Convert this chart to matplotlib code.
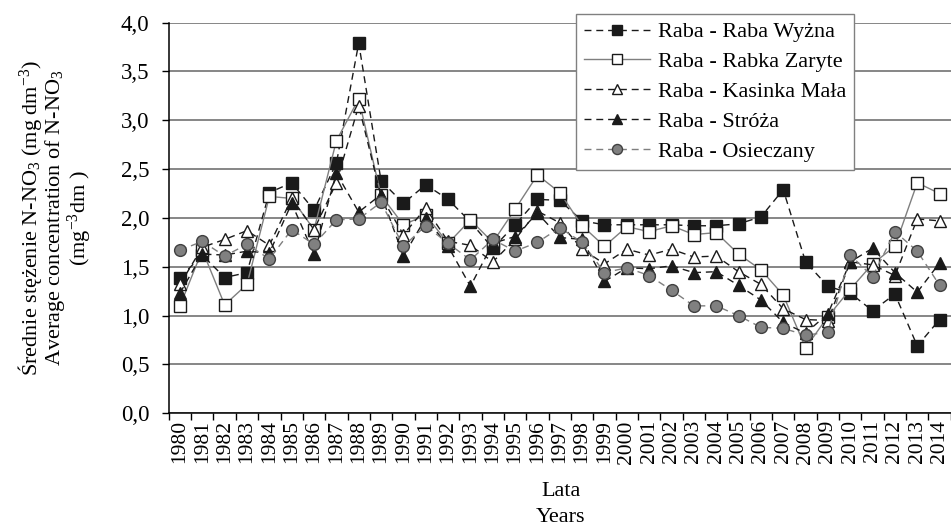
import matplotlib
matplotlib.use("Agg")
import matplotlib.pyplot as plt
from matplotlib.ticker import MultipleLocator, FuncFormatter

plt.rcParams["font.family"] = ["Liberation Serif", "DejaVu Serif"]
plt.rcParams["mathtext.fontset"] = "custom"
plt.rcParams["mathtext.rm"] = "Liberation Serif"
plt.rcParams["mathtext.default"] = "regular"

years = list(range(1980, 2015))

# average N-NO3 concentration per station (mg dm-3)
raba_wyzna = [1.39, 1.62, 1.39, 1.44, 2.26, 2.36, 2.08, 2.56, 3.79, 2.38,
              2.15, 2.34, 2.19, 1.96, 1.69, 1.93, 2.19, 2.18, 1.97, 1.93,
              1.93, 1.93, 1.93, 1.92, 1.92, 1.94, 2.01, 2.29, 1.55, 1.30,
              1.23, 1.05, 1.22, 0.69, 0.96]
rabka_zaryte = [1.10, 1.67, 1.11, 1.32, 2.22, 2.20, 1.88, 2.79, 3.22, 2.23,
                1.93, 2.03, 1.74, 1.98, 1.75, 2.09, 2.44, 2.26, 1.92, 1.71,
                1.91, 1.86, 1.92, 1.83, 1.85, 1.63, 1.47, 1.21, 0.67, 0.99,
                1.27, 1.53, 1.71, 2.36, 2.25]
kasinka_mala = [1.32, 1.70, 1.78, 1.87, 1.72, 2.20, 1.88, 2.36, 3.15, 2.22,
                1.83, 2.10, 1.76, 1.72, 1.55, 1.78, 2.07, 1.95, 1.68, 1.53,
                1.68, 1.62, 1.68, 1.60, 1.61, 1.45, 1.32, 1.07, 0.96, 0.95,
                1.55, 1.52, 1.41, 1.99, 1.97]
stroza = [1.23, 1.63, 1.62, 1.66, 1.64, 2.15, 1.63, 2.46, 2.06, 2.24,
          1.61, 2.00, 1.71, 1.30, 1.74, 1.81, 2.05, 1.80, 1.78, 1.35,
          1.49, 1.48, 1.51, 1.44, 1.45, 1.31, 1.16, 0.93, 0.82, 1.02,
          1.55, 1.69, 1.44, 1.24, 1.54]
osieczany = [1.67, 1.76, 1.61, 1.73, 1.58, 1.88, 1.73, 1.98, 1.99, 2.16,
             1.71, 1.92, 1.74, 1.57, 1.78, 1.66, 1.75, 1.90, 1.75, 1.44,
             1.49, 1.41, 1.26, 1.10, 1.10, 1.00, 0.88, 0.87, 0.80, 0.83,
             1.62, 1.40, 1.86, 1.66, 1.31]

dash = (0, (5, 3.5))
series = [
    ("Raba - Raba Wyżna", raba_wyzna,
     dict(color="#1a1a1a", ls=dash, marker="s", mfc="#1a1a1a", mec="#1a1a1a", ms=8)),
    ("Raba - Rabka Zaryte", rabka_zaryte,
     dict(color="#7f7f7f", ls="-", marker="s", mfc="white", mec="#1a1a1a", ms=8.5)),
    ("Raba - Kasinka Mała", kasinka_mala,
     dict(color="#1a1a1a", ls=dash, marker="^", mfc="white", mec="#1a1a1a", ms=9)),
    ("Raba - Stróża", stroza,
     dict(color="#1a1a1a", ls=dash, marker="^", mfc="#1a1a1a", mec="#1a1a1a", ms=9)),
    ("Raba - Osieczany", osieczany,
     dict(color="#7f7f7f", ls=dash, marker="o", mfc="#808080", mec="#404040", ms=8.5)),
]

fig = plt.figure(figsize=(9.51, 5.32), dpi=100)
ax = fig.add_axes([168.8 / 951, 1 - 413.3 / 532, 782 / 951, 390.7 / 532])

x = list(range(len(years)))
for name, vals, style in series:
    ax.plot(x, vals, label=name, lw=1.0, mew=1.0, **style)

ax.set_xlim(-0.5, len(years) - 0.5)
ax.set_ylim(0, 4.0)
ax.yaxis.set_major_locator(MultipleLocator(0.5))
ax.yaxis.set_major_formatter(FuncFormatter(lambda v, _: f"{v:.1f}".replace(".", ",")))
ax.grid(axis="y", color="#666666", lw=1.1)
ax.set_axisbelow(True)

ax.set_xticks(x)
ax.set_xticklabels([str(y) for y in years], rotation=90)
ax.set_xticks([i - 0.5 for i in range(len(years) + 1)], minor=True)
ax.tick_params(axis="x", which="major", length=0, pad=5, labelsize=15.5)
ax.tick_params(axis="x", which="minor", length=5, direction="out", width=1)
ax.tick_params(axis="y", length=5, direction="out", width=1, pad=9, labelsize=16.5)

for side in ("top", "right"):
    ax.spines[side].set_visible(False)
ax.spines["left"].set_linewidth(1.1)
ax.spines["bottom"].set_linewidth(1.1)

fig.text(55 / 951, 1 - 218 / 532,
         "Średnie stężenie N-NO$_3$ (mg dm$^{-3}$)\n"
         "Average concentration of N-NO$_3$\n"
         "(mg$^{-3}$dm )",
         rotation=90, ha="center", va="center", multialignment="center",
         fontsize=16, linespacing=0.95)
fig.text(561 / 951, 1 - 492 / 532, "Lata", ha="center", va="center", fontsize=16)
fig.text(561 / 951, 1 - 517 / 532, "Years", ha="center", va="center", fontsize=16)

leg = ax.legend(loc="upper left", bbox_to_anchor=(576 / 951, 1 - 14 / 532),
                bbox_transform=fig.transFigure, borderaxespad=0,
                fancybox=False, framealpha=1, edgecolor="#808080",
                fontsize=16, handlelength=3.0, handletextpad=0.35,
                labelspacing=0.42, borderpad=0.35, markerscale=0.85)
leg.get_frame().set_linewidth(1.0)

fig.savefig("out.png", dpi=100)
